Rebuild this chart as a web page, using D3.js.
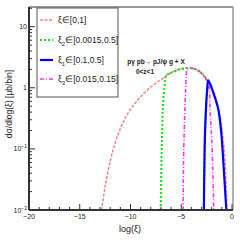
<!DOCTYPE html>
<html><head><meta charset="utf-8">
<script src="https://cdn.jsdelivr.net/npm/d3@7"></script>
<style>body{margin:0;background:#fff}svg{display:block}text{font-family:"Liberation Sans",Arial,sans-serif}</style>
</head><body>
<svg id="c" width="240" height="240"></svg>
<script>
// ---- data ----
const xTicks = [-20, -15, -10, -5, 0];
const yTickExps = [-2, -1, 0, 1];
const legendLabels = [
  {base: "ξ", sub: "", rest: "∈[0,1]"},
  {base: "ξ", sub: "2", rest: "∈[0.0015,0.5]"},
  {base: "ξ", sub: "1", rest: "∈[0.1,0.5]"},
  {base: "ξ", sub: "3", rest: "∈[0.015,0.15]"}
];
const redX = [-12.85,-12.5,-12.0,-11.5,-11.0,-10.5,-10.0,-9.3,-8.1,-7.0,-6.3,-5.4,-4.6,-4.0,-3.5,-3.0,-2.5,-2.0,-1.5,-1.2,-1.0,-0.8,-0.65,-0.5];
const redY = [0.01,0.024,0.063,0.126,0.214,0.324,0.447,0.63,1.0,1.36,1.65,1.98,2.1,2.12,2.0,1.75,1.4,1.02,0.6,0.36,0.22,0.11,0.05,0.01];
const greenX = [-7.03,-6.95,-6.85,-6.8,-6.65,-6.47,-6.0,-5.0,-4.2,-3.5,-3.0,-2.5,-2.33,-2.45,-2.55,-2.67,-2.77];
const greenY = [0.01,0.06,0.3,0.55,1.0,1.6,1.75,2.02,2.1,1.98,1.72,1.35,1.25,0.9,0.5,0.15,0.01];
const blueX = [-2.77,-2.67,-2.55,-2.45,-2.33,-1.85,-1.36,-1.09,-0.86,-0.6,-0.55];
const blueY = [0.01,0.15,0.5,0.9,1.32,0.84,0.45,0.21,0.065,0.013,0.01];
const magX = [-4.82,-4.75,-4.62,-4.5,-4.4,-4.0,-3.5,-3.0,-2.5,-2.28,-2.15,-2.0,-1.9,-1.8];
const magY = [0.01,0.1,0.55,1.5,2.0,2.1,1.98,1.72,1.35,1.1,0.4,0.15,0.05,0.01];

const svg = d3.select("#c");
const L = 29, R = 233, T = 7, B = 210;
const x = d3.scaleLinear().domain([-20, 0.1]).range([L, R]);
const y = d3.scaleLog().domain([0.01, 21]).range([B, T]);

const line = d3.line().x(d => x(d[0])).y(d => y(d[1])).curve(d3.curveCatmullRom.alpha(0.5));
const zip = (a, b) => a.map((v, i) => [v, b[i]]);

// frame top/right
svg.append("line").attr("x1", L).attr("x2", R).attr("y1", T).attr("y2", T).attr("stroke", "#777").attr("stroke-width", 1.5);
svg.append("line").attr("x1", R).attr("x2", R).attr("y1", T).attr("y2", B).attr("stroke", "#999").attr("stroke-width", 1.5);

const plot = svg.append("g");
const curves = [
  {d: zip(redX, redY), c: "#f78585", w: 1.5, dash: "3,1.5"},
  {d: zip(greenX, greenY), c: "#10e010", w: 2, dash: "2,2"},
  {d: zip(magX, magY), c: "#ff33ff", w: 1.6, dash: "4,2,1,2"},
  {d: zip(blueX, blueY), c: "#0000ff", w: 2.2, dash: null}
];
curves.forEach(cv => {
  plot.append("path").attr("d", line(cv.d)).attr("fill", "none")
    .attr("stroke", cv.c).attr("stroke-width", cv.w)
    .attr("stroke-dasharray", cv.dash);
});

// x axis
const xa = svg.append("g");
xa.append("line").attr("x1", L).attr("x2", R).attr("y1", B).attr("y2", B).attr("stroke", "#333").attr("stroke-width", 2);
d3.range(-20, 1, 1).forEach(v => {
  const major = v % 5 === 0;
  xa.append("line").attr("x1", x(v)).attr("x2", x(v)).attr("y1", B).attr("y2", B - (major ? 6 : 3))
    .attr("stroke", "#333").attr("stroke-width", 1);
});
xTicks.forEach(v => {
  xa.append("text").attr("x", x(v)).attr("y", B + 9).attr("text-anchor", "middle")
    .attr("font-size", 7).attr("fill", "#222").text(v === 0 ? "0" : "\u2212" + Math.abs(v));
});
svg.append("text").attr("x", 130).attr("y", 232).attr("text-anchor", "middle")
  .attr("font-size", 9).attr("fill", "#222").text("log(ξ)");

// y axis
const ya = svg.append("g");
ya.append("line").attr("x1", L).attr("x2", L).attr("y1", T).attr("y2", B).attr("stroke", "#333").attr("stroke-width", 2);
yTickExps.forEach(e => {
  for (let m = 1; m <= 9; m++) {
    const v = m * Math.pow(10, e);
    if (v < 0.01 || v > 21) continue;
    ya.append("line").attr("x1", L).attr("x2", L + (m === 1 ? 6 : 3)).attr("y1", y(v)).attr("y2", y(v))
      .attr("stroke", "#333").attr("stroke-width", 1);
  }
  const t = ya.append("text").attr("x", L - 2).attr("y", y(Math.pow(10, e)) + 2.5)
    .attr("text-anchor", "end").attr("font-size", 7).attr("fill", "#222");
  if (e === 0) t.text("1");
  else if (e === 1) t.text("10");
  else {
    t.append("tspan").text("10");
    t.append("tspan").attr("dy", -3).attr("font-size", 5).text("\u2212" + Math.abs(e));
  }
});
svg.append("text").attr("transform", "translate(12,104) rotate(-90)").attr("text-anchor", "middle")
  .attr("font-size", 8.5).attr("fill", "#222").text("dσ/dlog(ξ) [μb/bin]");

// legend
const lg = svg.append("g");
lg.append("rect").attr("x", 37).attr("y", 8).attr("width", 81).attr("height", 89)
  .attr("fill", "#fff").attr("stroke", "#555").attr("stroke-width", 1);
const legY = [20, 40, 60, 79];
legendLabels.forEach((lab, i) => {
  const cv = curves[[0, 1, 3, 2][i]];
  lg.append("line").attr("x1", 40).attr("x2", 53).attr("y1", legY[i]).attr("y2", legY[i])
    .attr("stroke", cv.c).attr("stroke-width", cv.w).attr("stroke-dasharray", cv.dash);
  const t = lg.append("text").attr("x", 58).attr("y", legY[i] + 3).attr("font-size", 8.5).attr("fill", "#222");
  t.append("tspan").text(lab.base);
  if (lab.sub) t.append("tspan").attr("dy", 2.5).attr("font-size", 6).text(lab.sub);
  t.append("tspan").attr("dy", lab.sub ? -2.5 : 0).text(lab.rest);
});

// annotation
svg.append("text").attr("x", 156).attr("y", 64).attr("text-anchor", "middle")
  .attr("font-size", 6.5).attr("font-weight", "bold").attr("fill", "#222").text("pγ pb→ pJ/ψ g + X");
svg.append("text").attr("x", 145).attr("y", 74).attr("text-anchor", "middle")
  .attr("font-size", 6.5).attr("font-weight", "bold").attr("fill", "#222").text("0<z<1");
</script>
</body></html>
